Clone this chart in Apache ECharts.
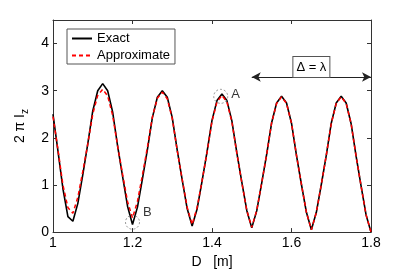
<!DOCTYPE html>
<html><head><meta charset="utf-8">
<script src="https://cdn.jsdelivr.net/npm/echarts@6/dist/echarts.min.js"></script>
<style>html,body{margin:0;padding:0;background:#fff}#c{width:409px;height:274px}</style>
</head><body><div id="c"></div>
<script>
const D = [1.0,1.0125,1.025,1.0375,1.05,1.0625,1.075,1.0875,1.1,1.1125,1.125,1.1375,1.15,1.1625,1.175,1.1875,1.2,1.2125,1.225,1.2375,1.25,1.2625,1.275,1.2875,1.3,1.3125,1.325,1.3375,1.35,1.3625,1.375,1.3875,1.4,1.4125,1.425,1.4375,1.45,1.4625,1.475,1.4875,1.5,1.5125,1.525,1.5375,1.55,1.5625,1.575,1.5875,1.6,1.6125,1.625,1.6375,1.65,1.6625,1.675,1.6875,1.7,1.7125,1.725,1.7375,1.75,1.7625,1.775,1.7875,1.8];
const exact = [2.50,1.72,0.92,0.33,0.23,
  0.61,1.22,1.87,2.57,3.00,3.15,
  3.00,2.55,1.83,1.18,0.55,0.16,
  0.53,1.13,1.75,2.43,2.86,3.00,
  2.86,2.43,1.74,1.11,0.50,0.13,
  0.49,1.08,1.70,2.37,2.79,2.93,
  2.79,2.36,1.68,1.06,0.46,0.09,
  0.45,1.04,1.65,2.32,2.74,2.88,
  2.74,2.31,1.63,1.01,0.42,0.05,
  0.42,1.01,1.63,2.31,2.74,2.88,
  2.74,2.30,1.61,0.98,0.37,0.00];
const approx = [2.45,1.75,1.00,0.52,0.40,
  0.74,1.29,1.87,2.50,2.90,3.03,
  2.89,2.48,1.83,1.23,0.65,0.30,
  0.65,1.21,1.80,2.44,2.84,2.97,
  2.83,2.41,1.73,1.12,0.53,0.16,
  0.52,1.09,1.69,2.35,2.76,2.90,
  2.76,2.34,1.67,1.05,0.46,0.10,
  0.46,1.04,1.65,2.32,2.73,2.87,
  2.73,2.31,1.63,1.01,0.42,0.05,
  0.42,1.01,1.63,2.30,2.73,2.87,
  2.73,2.30,1.61,0.98,0.37,0.00];
const seriesNames = ['Exact','Approximate'];
const circlePts = [[1.422,2.88],[1.2,0.21]];
const circleLabels = ['A','B'];
const arrowFrom = [1.5,3.29];
const arrowTo = [1.8,3.29];
const arrowText = 'Δ = λ';
const xTicks = {min:1, max:1.8, interval:0.2};
const yTicks = {min:0, max:4.5, interval:1};

const FONT = 'Liberation Sans, Arial, Helvetica, sans-serif';
const axisCol = '#333';
const chart = echarts.init(document.getElementById('c'), null, {renderer:'canvas'});
const zip = (xs, ys) => xs.map((x,i)=>[x, ys[i]]);
const baseX = {type:'value', min:xTicks.min, max:xTicks.max, interval:xTicks.interval,
  axisLine:{show:true, onZero:false, lineStyle:{color:axisCol, width:1}},
  axisTick:{show:true, inside:true, length:4, lineStyle:{color:axisCol}},
  splitLine:{show:false}};
const baseY = {type:'value', min:yTicks.min, max:yTicks.max, interval:yTicks.interval,
  axisLine:{show:true, onZero:false, lineStyle:{color:axisCol, width:1}},
  axisTick:{show:true, inside:true, length:4, lineStyle:{color:axisCol}},
  splitLine:{show:false}};
chart.setOption({
  animation:false,
  backgroundColor:'#fff',
  textStyle:{fontFamily:FONT},
  grid:{left:53, right:38, top:20, bottom:34},
  legend:{
    data:seriesNames, orient:'vertical', left:67, top:29,
    itemWidth:20, itemHeight:14, itemGap:4,
    itemStyle:{opacity:0},
    padding:[3,5,2,4], borderColor:'#555', borderWidth:1, backgroundColor:'#fff',
    textStyle:{fontSize:13, color:'#000', fontFamily:FONT}
  },
  xAxis:[
    Object.assign({}, baseX, {position:'bottom',
      axisLabel:{show:true, margin:4, fontSize:14, color:'#000', fontFamily:FONT},
      name:'D   [m]', nameLocation:'middle', nameGap:17,
      nameTextStyle:{fontSize:14, color:'#000', fontFamily:FONT}}),
    Object.assign({}, baseX, {position:'top', axisLabel:{show:false}})
  ],
  yAxis:[
    Object.assign({}, baseY, {position:'left',
      axisLabel:{show:true, margin:4, fontSize:14, color:'#000', fontFamily:FONT, showMaxLabel:false},
      name:'2 π I{s|z}', nameLocation:'middle', nameGap:14,
      nameTextStyle:{fontSize:14, color:'#000', fontFamily:FONT, lineHeight:20,
        rich:{s:{fontSize:10, lineHeight:10, verticalAlign:'bottom', fontFamily:FONT, color:'#000'}}}}),
    Object.assign({}, baseY, {position:'right', axisLabel:{show:false}})
  ],
  series:[
    {name:seriesNames[0], type:'line', data:zip(D, exact), symbol:'none',
      lineStyle:{color:'#000', width:1.6}, itemStyle:{color:'#000'}, z:2},
    {name:seriesNames[1], type:'line', data:zip(D, approx), symbol:'none',
      lineStyle:{color:'#ff0000', width:1.5, type:[4,3]}, itemStyle:{color:'#ff0000'}, z:3},
    {name:'annot', type:'scatter', data:circlePts.map((p,i)=>({value:p, label:{
        show:true, formatter:circleLabels[i], position:'right', distance:3,
        offset:i===0?[0,-2]:[0,-10], fontSize:13, color:'#000', fontFamily:FONT}})),
      symbol:'circle', symbolSize:14,
      itemStyle:{color:'rgba(0,0,0,0)', borderColor:'#777', borderType:[2,2], borderWidth:1},
      emphasis:{disabled:true}, z:4,
      markLine:{silent:true, symbol:['arrow','arrow'], symbolSize:[7,9], precision:4,
        lineStyle:{color:'#222', width:1, type:'solid'},
        label:{show:true, position:'middle', formatter:arrowText, distance:0,
          backgroundColor:'#fff', borderColor:'#555', borderWidth:1, padding:[4,3,3,3],
          fontSize:13, color:'#000', fontFamily:FONT},
        data:[[{coord:arrowFrom},{coord:arrowTo}]]}
    }
  ]
});
</script></body></html>
